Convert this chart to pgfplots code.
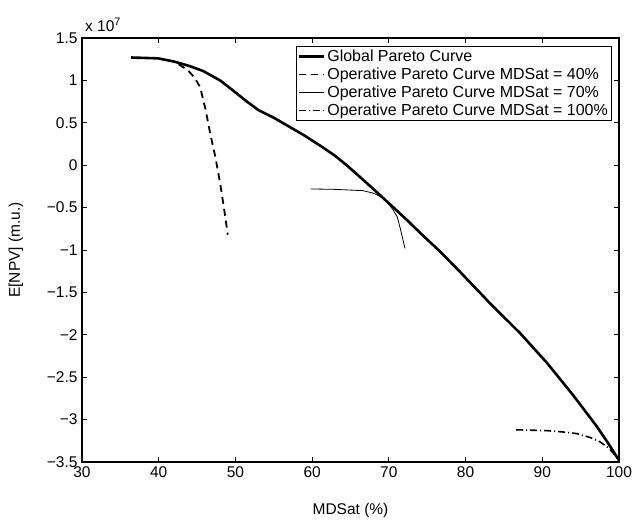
\documentclass[border=0pt]{standalone}
\usepackage{fontspec}
\setmainfont{Liberation Sans}
\usepackage{pgfplots}
\pgfplotsset{compat=1.18}
\begin{document}
\begin{tikzpicture}
\begin{axis}[
  scale only axis,
  clip=false,
  width=537pt, height=424pt,
  xmin=30, xmax=100, ymin=-3.5, ymax=1.5,
  xtick={30,40,...,100},
  ytick={-3.5,-3,...,1.5},
  yticklabels={−3.5,−3,−2.5,−2,−1.5,−1,−0.5,0,0.5,1,1.5},
  xticklabels={30,40,50,60,70,80,90,100},
  tick align=inside,
  major tick length=5pt,
  tick style={black, line width=0.8pt},
  axis line style={line width=1.2pt},
  tick label style={font=\fontsize{15.5}{15.5}\selectfont},
  xticklabel style={yshift=-1pt},
  yticklabel style={xshift=-1pt},
  label style={font=\fontsize{15.5}{15.5}\selectfont},
  xlabel={MDSat (\%)},
  ylabel={E[NPV] (m.u.)},
  xlabel style={yshift=-19pt},
  ylabel style={yshift=17pt},
  legend style={at={(rel axis cs:1,1)}, anchor=north east, xshift=-7pt, yshift=-8pt,
    font=\fontsize{16}{16}\selectfont, draw=black, line width=1.2pt,
    inner sep=1.5pt, row sep=0.8pt, cells={anchor=west}},
  legend image code/.code={\draw[#1] (0pt,0pt) -- (25pt,0pt);},
]
\addplot[black, line width=2.6pt] coordinates {
(36.4,1.27) (39.9,1.26) (42.1,1.22) (44.0,1.17) (45.8,1.11) (47,1.05) (48,1.0) (49.7,0.88)
(51.5,0.75) (53,0.65) (55,0.56) (57.1,0.45) (59,0.35) (61.4,0.21) (63,0.11) (64.5,0.0)
(66,-0.12) (67.6,-0.25) (69.3,-0.39) (72.4,-0.65) (74.1,-0.80) (76.7,-1.02) (79.3,-1.26)
(83.2,-1.63) (87.1,-1.98) (90.6,-2.33) (94,-2.71) (97.1,-3.08) (98.6,-3.28) (100,-3.48)};
\addlegendentry{Global Pareto Curve}
\addplot[black, line width=1.8pt, dash pattern=on 7pt off 5pt] coordinates {
(42.6,1.19) (43.8,1.12) (44.7,1.03) (45.4,0.92) (46.1,0.66) (46.7,0.38) (47.4,0.09) (48,-0.21) (48.5,-0.50) (49.0,-0.82)};
\addlegendentry{Operative Pareto Curve MDSat = 40\%}
\addplot[black, line width=0.8pt] coordinates {
(59.8,-0.28) (63,-0.285) (66.6,-0.30) (68.0,-0.33) (68.9,-0.37) (69.8,-0.44) (70.5,-0.52) (71.1,-0.61) (71.5,-0.75) (72.1,-0.98)};
\addlegendentry{Operative Pareto Curve MDSat = 70\%}
\addplot[black, line width=1.6pt, dash pattern=on 7pt off 3pt on 1pt off 3pt] coordinates {
(86.6,-3.12) (88.6,-3.125) (90.6,-3.13) (92.6,-3.145) (94.5,-3.165) (96.2,-3.21) (97.5,-3.26) (98.7,-3.34) (99.5,-3.42) (100,-3.48)};
\addlegendentry{Operative Pareto Curve MDSat = 100\%}
\node[anchor=base west, font=\fontsize{15.5}{15.5}\selectfont, inner sep=0pt] at (rel axis cs:0,1) [xshift=3pt, yshift=7pt] {x 10\textsuperscript{7}};
\end{axis}
\path ([yshift=38pt,xshift=19pt]current axis.north east);
\path ([yshift=-56pt,xshift=-82pt]current axis.south west);
\end{tikzpicture}
\end{document}
